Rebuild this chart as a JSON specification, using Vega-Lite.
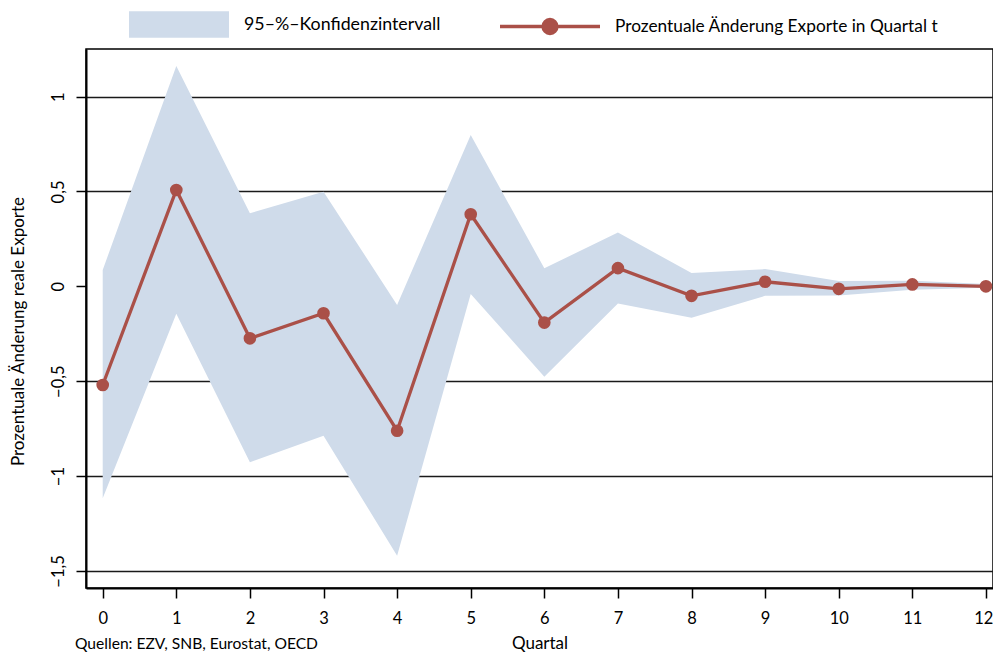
{
  "$schema": "https://vega.github.io/schema/vega-lite/v6.json",
  "width": 907,
  "height": 539,
  "autosize": {"type": "none"},
  "padding": {"left": 86, "top": 49, "right": 0, "bottom": 65},
  "background": "white",
  "config": {
    "font": "Lato",
    "view": {"stroke": "#000", "strokeWidth": 1.5},
    "axis": {"labelColor": "#000", "titleColor": "#000", "tickColor": "#000", "domainColor": "#000", "labelFont": "Lato", "titleFont": "Lato"},
    "legend": {"labelFont": "Lato", "labelColor": "#000", "labelLimit": 0}
  },
  "title": {
    "text": "Quellen: EZV, SNB, Eurostat, OECD",
    "orient": "bottom",
    "anchor": "start",
    "frame": "group",
    "fontSize": 15.6,
    "fontWeight": "normal",
    "font": "Lato",
    "color": "#000",
    "baseline": "alphabetic",
    "dx": -11,
    "dy": -2.5,
    "offset": 0
  },
  "data": {
    "values": [
      {"q": 0, "est": -0.52, "lo": -1.117, "hi": 0.086},
      {"q": 1, "est": 0.508, "lo": -0.145, "hi": 1.162},
      {"q": 2, "est": -0.274, "lo": -0.927, "hi": 0.385},
      {"q": 3, "est": -0.142, "lo": -0.787, "hi": 0.499},
      {"q": 4, "est": -0.761, "lo": -1.42, "hi": -0.098},
      {"q": 5, "est": 0.38, "lo": -0.04, "hi": 0.798},
      {"q": 6, "est": -0.191, "lo": -0.476, "hi": 0.095},
      {"q": 7, "est": 0.096, "lo": -0.09, "hi": 0.284},
      {"q": 8, "est": -0.05, "lo": -0.165, "hi": 0.07},
      {"q": 9, "est": 0.024, "lo": -0.05, "hi": 0.091},
      {"q": 10, "est": -0.013, "lo": -0.048, "hi": 0.028},
      {"q": 11, "est": 0.01, "lo": -0.018, "hi": 0.03},
      {"q": 12, "est": 0.0, "lo": -0.007, "hi": 0.012}
    ]
  },
  "encoding": {
    "x": {
      "field": "q",
      "type": "quantitative",
      "scale": {"domain": [-0.227, 12.096], "nice": false, "zero": false},
      "axis": {
        "title": "Quartal",
        "values": [0,1,2,3,4,5,6,7,8,9,10,11,12],
        "grid": false,
        "domainWidth": 2,
        "tickSize": 10,
        "tickWidth": 1.5,
        "labelFontSize": 16.5,
        "labelPadding": 12,
        "labelBaseline": "top",
        "labelFlush": 10,
        "labelFlushOffset": 7,
        "titleFontSize": 17,
        "titleFontWeight": "normal",
        "titleBaseline": "alphabetic",
        "titleY": 60
      }
    }
  },
  "layer": [
    {
      "mark": {"type": "area", "opacity": 1, "color": "#cfdbea"},
      "encoding": {
        "y": {
          "field": "lo",
          "type": "quantitative",
          "scale": {"domain": [-1.59, 1.251], "nice": false, "zero": false},
          "axis": {
            "title": "Prozentuale Änderung reale Exporte",
            "values": [-1.5, -1, -0.5, 0, 0.5, 1],
            "labelExpr": "replace(format(datum.value, '~g'), '.', ',')",
            "grid": true,
            "gridColor": "#1a1a1a",
            "gridWidth": 1.5,
            "gridOpacity": {"condition": {"test": "datum.value === 0", "value": 0}, "value": 1},
            "domainWidth": 2,
            "tickSize": 10,
            "tickWidth": 1.5,
            "labelFontSize": 16.5,
            "labelAngle": -90,
            "labelAlign": "center",
            "labelBaseline": "alphabetic",
            "labelPadding": 13,
            "titleFontSize": 17,
            "titleFontWeight": "normal",
            "titleBaseline": "alphabetic",
            "titleAlign": "center",
            "titleAngle": -90,
            "titleX": -63,
            "titleY": 282
          }
        },
        "y2": {"field": "hi"},
        "fill": {
          "datum": "95–%–Konfidenzintervall",
          "scale": {"range": ["#cfdbea"]},
          "legend": {
            "orient": "none",
            "legendX": 43,
            "legendY": -74.5,
            "title": null,
            "symbolType": "M-1,-0.265H1V0.265H-1Z",
            "symbolSize": 10000,
            "symbolStrokeWidth": 0,
            "symbolOpacity": 1,
            "labelOffset": 15,
            "labelFontSize": 17.8,
            "labelLimit": 0,
            "padding": 0
          }
        }
      }
    },
    {
      "mark": {"type": "line", "strokeWidth": 3.3, "color": "#aa5048"},
      "encoding": {
        "y": {"field": "est", "type": "quantitative"},
        "stroke": {
          "datum": "Prozentuale Änderung Exporte in Quartal t",
          "scale": {"range": ["#aa5048"]},
          "legend": {
            "orient": "none",
            "legendX": 412,
            "legendY": -74.5,
            "title": null,
            "symbolType": "M-1,0H1M0.14,0A0.14,0.14,0,1,1,-0.14,0A0.14,0.14,0,1,1,0.14,0Z",
            "symbolSize": 10000,
            "symbolStrokeWidth": 3.3,
            "symbolStrokeColor": "#aa5048",
            "symbolFillColor": "#aa5048",
            "labelOffset": 13,
            "labelFontSize": 17.3,
            "labelLimit": 0,
            "padding": 0,
            "encode": {"symbols": {"update": {"fill": {"value": "#aa5048"}, "stroke": {"value": "#aa5048"}}}}
          }
        }
      }
    },
    {
      "mark": {"type": "rule", "color": "#000", "strokeWidth": 1.5, "strokeDash": [10, 5]},
      "encoding": {"y": {"datum": 0}}
    },
    {
      "mark": {"type": "point", "filled": true, "size": 160, "opacity": 1, "color": "#aa5048"},
      "encoding": {"y": {"field": "est", "type": "quantitative"}}
    }
  ]
}
